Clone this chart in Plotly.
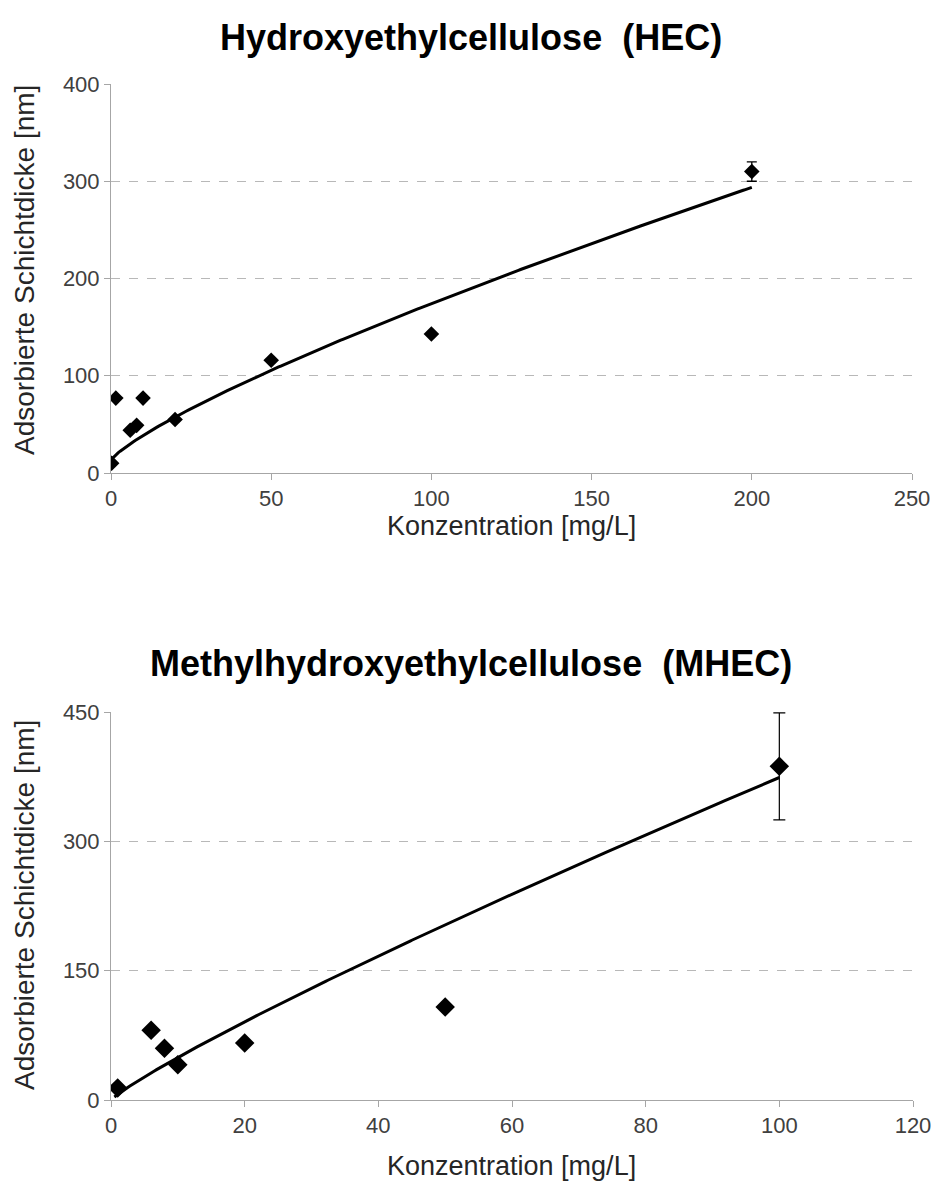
import numpy as np
import plotly.graph_objects as go

# Hydroxyethylcellulose (HEC): concentration [mg/L] vs adsorbed layer thickness [nm]
hec_conc = [0.2, 1.5, 6, 8, 10, 20, 50, 100, 200]
hec_thick = [10, 77, 44, 49, 77, 55, 116, 143, 310]
hec_err = [0, 0, 0, 0, 0, 0, 0, 0, 10]

# Methylhydroxyethylcellulose (MHEC)
mhec_conc = [1, 6, 8, 10, 20, 50, 100]
mhec_thick = [14, 81, 60, 41, 66, 108, 387]
mhec_err = [0, 0, 0, 0, 0, 0, 62]

# Trend curve coefficients, y = c + a * x**b
hec_fit = {"a": 4.05, "b": 0.8, "c": 13.0}
mhec_fit = {"a": 6.5, "b": 0.88, "c": 0.0}

W, H = 941, 1181
FONT = "Liberation Sans, Arial, sans-serif"
AXIS_GRAY = "#a6a6a6"
GRID_GRAY = "#b8b8b8"
TICK_COLOR = "#404040"


def trend(fit, x0, x1):
    xs = np.linspace(x0, x1, 300)
    return xs, fit["c"] + fit["a"] * xs ** fit["b"]


def fx(p):
    return p / W


def fy(p):
    return 1 - p / H


fig = go.Figure()

# HEC panel
tx, ty = trend(hec_fit, min(hec_conc), max(hec_conc))
fig.add_trace(go.Scatter(x=tx, y=ty, mode="lines", line=dict(color="black", width=3),
                         xaxis="x", yaxis="y", showlegend=False, hoverinfo="skip"))
fig.add_trace(go.Scatter(x=hec_conc, y=hec_thick, mode="markers",
                         marker=dict(symbol="diamond", size=12, color="black"),
                         error_y=dict(type="data", array=hec_err, color="black", thickness=1.3, width=5),
                         xaxis="x", yaxis="y", showlegend=False))

# MHEC panel
tx2, ty2 = trend(mhec_fit, 0.5, max(mhec_conc))
fig.add_trace(go.Scatter(x=tx2, y=ty2, mode="lines", line=dict(color="black", width=3),
                         xaxis="x2", yaxis="y2", showlegend=False, hoverinfo="skip"))
fig.add_trace(go.Scatter(x=mhec_conc, y=mhec_thick, mode="markers",
                         marker=dict(symbol="diamond", size=15, color="black"),
                         error_y=dict(type="data", array=mhec_err, color="black", thickness=1.2, width=6),
                         xaxis="x2", yaxis="y2", showlegend=False))

common_x = dict(showline=True, linecolor=AXIS_GRAY, linewidth=1, ticks="outside", ticklen=6,
                tickcolor=AXIS_GRAY, showgrid=False, zeroline=False, automargin=False,
                tickfont=dict(family=FONT, size=22, color=TICK_COLOR))
common_y = dict(showline=True, linecolor=AXIS_GRAY, linewidth=1, ticks="outside", ticklen=6,
                tickcolor=AXIS_GRAY, showgrid=True, gridcolor=GRID_GRAY, griddash="dash",
                gridwidth=1, zeroline=False, automargin=False,
                tickfont=dict(family=FONT, size=22, color=TICK_COLOR))

fig.update_layout(
    width=W, height=H,
    margin=dict(l=0, r=0, t=0, b=0, autoexpand=False),
    paper_bgcolor="white", plot_bgcolor="white",
    xaxis=dict(domain=[fx(111), fx(912)], range=[0, 250], dtick=50, anchor="y", **common_x),
    yaxis=dict(domain=[fy(473), fy(84)], range=[0, 400], dtick=100, anchor="x", **common_y),
    xaxis2=dict(domain=[fx(111), fx(913)], range=[0, 120], dtick=20, anchor="y2", **common_x),
    yaxis2=dict(domain=[fy(1100), fy(712)], range=[0, 450], dtick=150, anchor="x2", **common_y),
)

annotations = [
    dict(text="<b>Hydroxyethylcellulose  (HEC)</b>", x=0.5, y=fy(38), size=36),
    dict(text="<b>Methylhydroxyethylcellulose  (MHEC)</b>", x=0.5, y=fy(663), size=36),
    dict(text="Konzentration [mg/L]", x=fx(511), y=fy(526), size=27),
    dict(text="Konzentration [mg/L]", x=fx(511), y=fy(1166), size=27),
    dict(text="Adsorbierte Schichtdicke [nm]", x=fx(24), y=fy(270), size=28, angle=-90),
    dict(text="Adsorbierte Schichtdicke [nm]", x=fx(24), y=fy(905), size=28, angle=-90),
]
for a in annotations:
    fig.add_annotation(text=a["text"], x=a["x"], y=a["y"], xref="paper", yref="paper",
                       xanchor="center", yanchor="middle", showarrow=False,
                       textangle=a.get("angle", 0),
                       font=dict(family=FONT, size=a["size"], color="black" if a["size"] > 30 else "#262626"))

fig.write_html("out.html")
